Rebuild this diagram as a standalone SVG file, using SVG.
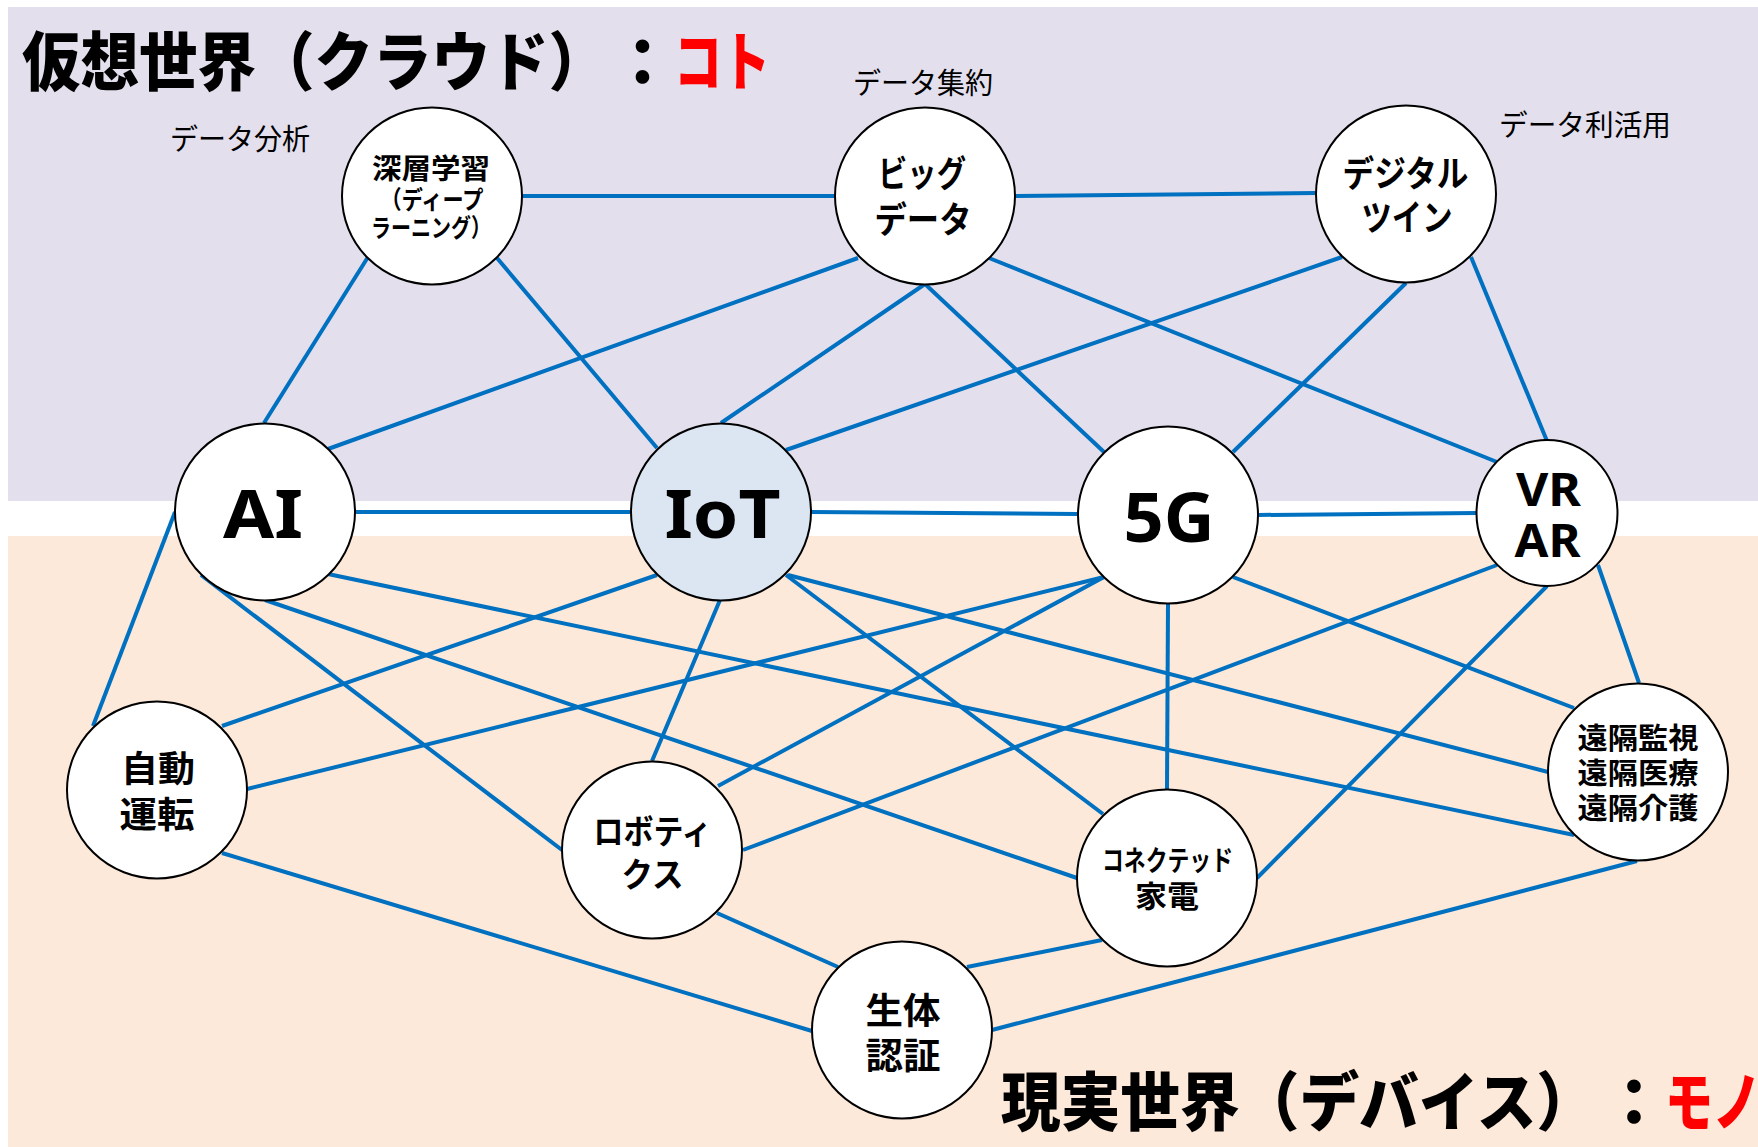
<svg xmlns="http://www.w3.org/2000/svg" width="1758" height="1147" viewBox="0 0 1758 1147">
  <style>
    .edge { stroke: #0070C0; stroke-width: 4; stroke-linecap: butt; fill: none; }
    .node { fill: #FFFFFF; stroke: #000000; stroke-width: 2; }
    .iot { fill: #DCE6F2; }
    .jp { font-family: "Noto Sans CJK JP", "Noto Sans", sans-serif; font-weight: 700; fill: #000; text-anchor: middle; }
    .en { font-family: "Noto Sans", "Liberation Sans", sans-serif; font-weight: 700; fill: #000; text-anchor: middle; }
    .lbl { font-family: "Noto Sans CJK JP", sans-serif; font-weight: 400; fill: #000; font-size: 29px; }
    .title { font-family: "Noto Sans CJK JP", sans-serif; font-weight: 900; font-size: 64px; fill: #000; }
    .red { fill: #FF0000; }
  </style>

  <!-- backgrounds -->
  <rect x="8" y="7" width="1750" height="494" fill="#E4DFEC"/>
  <rect x="8" y="536" width="1750" height="611" fill="#FDE9D9"/>

  <!-- connectors -->
  <g id="connectors">
    <line class="edge" x1="522" y1="196" x2="835" y2="196"/>
    <line class="edge" x1="1015" y1="196" x2="1316" y2="193"/>
    <line class="edge" x1="368" y1="257" x2="264" y2="423"/>
    <line class="edge" x1="497" y1="258" x2="657" y2="448"/>
    <line class="edge" x1="858" y1="258" x2="328" y2="449"/>
    <line class="edge" x1="925" y1="284" x2="721" y2="423"/>
    <line class="edge" x1="925" y1="284" x2="1104" y2="452"/>
    <line class="edge" x1="989" y1="258" x2="1497" y2="462"/>
    <line class="edge" x1="1342" y1="257" x2="786" y2="450"/>
    <line class="edge" x1="1406" y1="283" x2="1233" y2="452"/>
    <line class="edge" x1="1471" y1="257" x2="1547" y2="441"/>
    <line class="edge" x1="355" y1="512" x2="631" y2="512"/>
    <line class="edge" x1="811" y1="512" x2="1078" y2="514"/>
    <line class="edge" x1="1258" y1="515" x2="1477" y2="513"/>
    <line class="edge" x1="175" y1="512" x2="93" y2="726"/>
    <line class="edge" x1="201" y1="575" x2="562" y2="850"/>
    <line class="edge" x1="265" y1="600" x2="1077" y2="878"/>
    <line class="edge" x1="328" y1="574" x2="1574" y2="835"/>
    <line class="edge" x1="657" y1="575" x2="222" y2="726"/>
    <line class="edge" x1="720" y1="600" x2="652" y2="761"/>
    <line class="edge" x1="786" y1="575" x2="1103" y2="814"/>
    <line class="edge" x1="788" y1="575" x2="1548" y2="772"/>
    <line class="edge" x1="1104" y1="577" x2="247" y2="789"/>
    <line class="edge" x1="1104" y1="577" x2="718" y2="786"/>
    <line class="edge" x1="1168" y1="603" x2="1167" y2="789"/>
    <line class="edge" x1="1233" y1="577" x2="1574" y2="708"/>
    <line class="edge" x1="1497" y1="565" x2="743" y2="850"/>
    <line class="edge" x1="1547" y1="586" x2="1257" y2="878"/>
    <line class="edge" x1="1598" y1="565" x2="1639" y2="683"/>
    <line class="edge" x1="222" y1="853" x2="812" y2="1031"/>
    <line class="edge" x1="717" y1="913" x2="838" y2="967"/>
    <line class="edge" x1="1102" y1="940" x2="967" y2="967"/>
    <line class="edge" x1="1637" y1="861" x2="992" y2="1030"/>
  </g>

  <!-- nodes -->
  <g id="deep-learning">
    <ellipse class="node" cx="432" cy="196" rx="90" ry="88.5"/>
    <text class="jp" x="431" y="179" font-size="28" textLength="118" lengthAdjust="spacingAndGlyphs">深層学習</text>
    <text class="jp" x="432" y="209" font-size="25" textLength="103" lengthAdjust="spacingAndGlyphs">（ディープ</text>
    <text class="jp" x="431" y="237" font-size="25" textLength="120" lengthAdjust="spacingAndGlyphs">ラーニング）</text>
  </g>
  <g id="big-data">
    <ellipse class="node" cx="925" cy="196" rx="90" ry="88.5"/>
    <text class="jp" x="922" y="187" font-size="36" textLength="88" lengthAdjust="spacingAndGlyphs">ビッグ</text>
    <text class="jp" x="923" y="233" font-size="36" textLength="97" lengthAdjust="spacingAndGlyphs">データ</text>
  </g>
  <g id="digital-twin">
    <ellipse class="node" cx="1406" cy="194" rx="90" ry="88.5"/>
    <text class="jp" x="1405.5" y="187" font-size="36" textLength="126" lengthAdjust="spacingAndGlyphs">デジタル</text>
    <text class="jp" x="1407" y="231" font-size="36" textLength="91" lengthAdjust="spacingAndGlyphs">ツイン</text>
  </g>
  <g id="ai">
    <ellipse class="node" cx="265" cy="512" rx="90" ry="88.5"/>
    <text class="en" x="263" y="538" font-size="67" textLength="80" lengthAdjust="spacingAndGlyphs">AI</text>
  </g>
  <g id="iot">
    <ellipse class="node iot" cx="721" cy="512" rx="90" ry="88.5"/>
    <text class="en" x="722.5" y="538" font-size="67" textLength="116" lengthAdjust="spacingAndGlyphs">IoT</text>
  </g>
  <g id="5g">
    <ellipse class="node" cx="1168" cy="515" rx="90" ry="88.5"/>
    <text class="en" x="1169" y="542" font-size="69" textLength="91" lengthAdjust="spacingAndGlyphs">5G</text>
  </g>
  <g id="vr-ar">
    <ellipse class="node" cx="1547" cy="513" rx="70.5" ry="73"/>
    <text class="en" x="1548.5" y="506" font-size="46" textLength="65" lengthAdjust="spacingAndGlyphs">VR</text>
    <text class="en" x="1547.5" y="557" font-size="46" textLength="66" lengthAdjust="spacingAndGlyphs">AR</text>
  </g>
  <g id="autonomous-driving">
    <ellipse class="node" cx="157" cy="790" rx="90" ry="88.5"/>
    <text class="jp" x="158" y="782" font-size="36" textLength="74" lengthAdjust="spacingAndGlyphs">自動</text>
    <text class="jp" x="157" y="828" font-size="36" textLength="75" lengthAdjust="spacingAndGlyphs">運転</text>
  </g>
  <g id="robotics">
    <ellipse class="node" cx="652" cy="850" rx="90" ry="88.5"/>
    <text class="jp" x="652.5" y="844" font-size="34" textLength="118" lengthAdjust="spacingAndGlyphs">ロボティ</text>
    <text class="jp" x="652.5" y="887" font-size="34" textLength="62" lengthAdjust="spacingAndGlyphs">クス</text>
  </g>
  <g id="connected-appliances">
    <ellipse class="node" cx="1167" cy="878" rx="90" ry="88.5"/>
    <text class="jp" x="1167.5" y="871" font-size="28" textLength="131" lengthAdjust="spacingAndGlyphs">コネクテッド</text>
    <text class="jp" x="1167" y="907" font-size="30" textLength="64" lengthAdjust="spacingAndGlyphs">家電</text>
  </g>
  <g id="remote">
    <ellipse class="node" cx="1638" cy="772" rx="90" ry="88.5"/>
    <text class="jp" x="1638" y="749" font-size="29" textLength="121" lengthAdjust="spacingAndGlyphs">遠隔監視</text>
    <text class="jp" x="1638" y="784" font-size="29" textLength="121" lengthAdjust="spacingAndGlyphs">遠隔医療</text>
    <text class="jp" x="1638" y="819" font-size="29" textLength="121" lengthAdjust="spacingAndGlyphs">遠隔介護</text>
  </g>
  <g id="biometrics">
    <ellipse class="node" cx="902" cy="1030" rx="90" ry="88.5"/>
    <text class="jp" x="903" y="1024" font-size="36" textLength="75" lengthAdjust="spacingAndGlyphs">生体</text>
    <text class="jp" x="903" y="1069" font-size="36" textLength="75" lengthAdjust="spacingAndGlyphs">認証</text>
  </g>

  <!-- labels -->
  <text class="lbl" x="170" y="150" textLength="140" lengthAdjust="spacingAndGlyphs">データ分析</text>
  <text class="lbl" x="853" y="94" textLength="140" lengthAdjust="spacingAndGlyphs">データ集約</text>
  <text class="lbl" x="1499" y="136" textLength="172" lengthAdjust="spacingAndGlyphs">データ利活用</text>

  <!-- titles -->
  <g id="title-virtual">
    <text class="title" x="22" y="85" textLength="585" lengthAdjust="spacingAndGlyphs">仮想世界（クラウド）</text>
    <text class="title" x="642.5" y="85" text-anchor="middle">：</text>
    <text class="title red" x="674" y="85" textLength="96" lengthAdjust="spacingAndGlyphs">コト</text>
  </g>
  <g id="title-real">
    <text class="title" x="1001" y="1125" textLength="595" lengthAdjust="spacingAndGlyphs">現実世界（デバイス）</text>
    <text class="title" x="1634" y="1125" text-anchor="middle">：</text>
    <text class="title red" x="1665" y="1125" textLength="96" lengthAdjust="spacingAndGlyphs">モノ</text>
  </g>
</svg>
